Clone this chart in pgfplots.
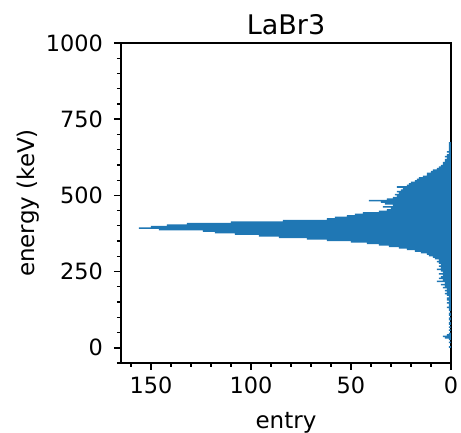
\documentclass[border=0pt]{standalone}
\usepackage{fontspec}
\setmainfont{DejaVu Sans}
\usepackage{pgfplots}
\pgfplotsset{compat=1.18}
\definecolor{mplblue}{RGB}{31,119,180}
\begin{document}
\begin{tikzpicture}
\path[use as bounding box] (-60.5pt,-35pt) rectangle (170pt,181.5pt);
\begin{axis}[
  at={(0,0)}, anchor=south west,
  scale only axis, width=165pt, height=160pt,
  xmin=0, xmax=165, ymin=-50, ymax=1000,
  x dir=reverse,
  xtick={0,50,100,150}, minor xtick={10,20,30,40,60,70,80,90,110,120,130,140,160},
  ytick={0,250,500,750,1000}, minor ytick={-50,50,100,150,200,300,350,400,450,550,600,650,700,800,850,900,950},
  tick pos=left, tick align=outside,
  major tick length=3.5pt, minor tick length=2pt,
  every tick/.style={black, line width=0.8pt},
  minor tick style={line width=0.6pt},
  axis line style={line width=0.9pt},
  /pgf/number format/assume math mode=true,
  /pgf/number format/1000 sep={},
  tick label style={font=\fontsize{11.2}{13}\selectfont},
  yticklabel style={xshift=-2pt},
  label style={font=\fontsize{11.5}{13}\selectfont},
  title style={font=\fontsize{13.5}{15}\selectfont, at={(axis description cs:0.5,1)}, anchor=base, yshift=-1.8pt},
  title={LaBr3},
  xlabel={entry}, ylabel={energy (keV)},
  xlabel style={at={(axis description cs:0.5,0)}, anchor=center, yshift=-30pt},
  ylabel style={at={(axis description cs:0,0.5)}, anchor=center, yshift=46.5pt},
]
\addplot[xbar, bar width=5, bar shift=0pt, fill=mplblue, draw=none] coordinates {
(1,2.5) (1,17.5) (1,27.5) (3,32.5) (4,37.5) (2,42.5) (1,47.5) (1,57.5) (1,67.5) (1,77.5) (1,82.5)
(1,92.5) (1,97.5) (1,107.5) (1,112.5) (1,122.5) (1,127.5) (2,132.5) (1,137.5) (1,142.5) (2,147.5)
(1,152.5) (2,157.5) (2,162.5) (1,167.5) (2,172.5) (3,177.5) (2,182.5) (3,187.5) (2,192.5) (4,197.5)
(3,202.5) (5,207.5) (3,212.5) (7,217.5) (4,222.5) (6,227.5) (5,232.5) (4,237.5) (6,242.5) (4,247.5)
(5,252.5) (7,257.5) (5,262.5) (6,267.5) (5,272.5) (6,277.5) (7,282.5) (6,287.5) (8,292.5) (9,297.5)
(11,302.5) (12,307.5) (15,312.5) (18,317.5) (22,322.5) (26,327.5) (31,332.5) (36,337.5) (42,342.5) (50,347.5)
(62,352.5) (72,357.5) (86,362.5) (96,367.5) (108,372.5) (118,377.5) (124,382.5) (146,387.5) (156,392.5) (150,397.5)
(142,402.5) (132,407.5) (110,412.5) (84,417.5) (62,422.5) (58,427.5) (52,432.5) (48,437.5) (44,442.5) (36,447.5)
(32,452.5) (30,457.5) (34,462.5) (29,467.5) (33,472.5) (35,477.5) (41,482.5) (32,487.5) (29,492.5) (27,497.5)
(28,502.5) (26,507.5) (27,512.5) (25,517.5) (24,522.5) (27,527.5) (22,532.5) (21,537.5) (20,542.5) (18,547.5)
(17,552.5) (16,557.5) (14,562.5) (12,567.5) (12,572.5) (10,577.5) (9,582.5) (7,587.5) (6,592.5) (5,597.5)
(4,602.5) (4,607.5) (3,612.5) (3,617.5) (2,622.5) (3,627.5) (2,632.5) (1,637.5) (2,642.5) (1,647.5)
(1,652.5) (1,657.5) (1,662.5) (1,667.5) (1,672.5)
};
\end{axis}
\end{tikzpicture}
\end{document}
